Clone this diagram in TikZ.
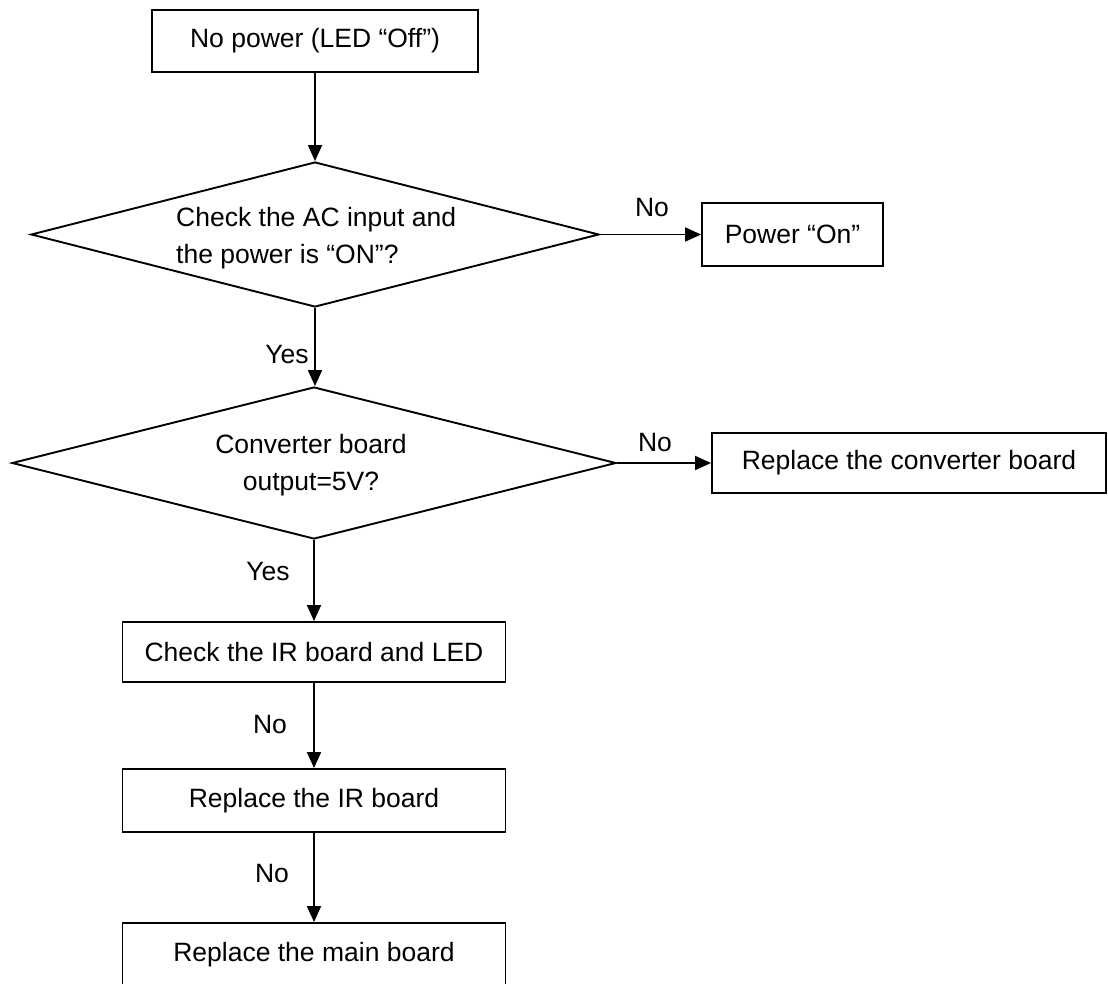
\documentclass[tikz,border=0pt]{standalone}
\usepackage{fontspec}
\setmainfont{Liberation Sans}
\usetikzlibrary{arrows.meta,shapes.geometric}
\begin{document}
\begin{tikzpicture}[x=1pt,y=-1pt,
  every node/.style={font=\fontsize{26.5}{37}\selectfont, inner sep=0pt},
  box/.style={draw, line width=1.9pt, rectangle},
  dec/.style={draw, line width=1.9pt, diamond},
  arr/.style={line width=1.9pt, -{Triangle[length=16pt,width=14pt]}}]
\useasboundingbox (0,0) rectangle (1108,983);
% nodes
\node[box, minimum width=326pt, minimum height=62pt] (b1) at (315,41) {No power (LED “Off”)};
\node[dec, minimum width=568pt, minimum height=145pt] (d1) at (315,234.5) {};
\node[align=left, anchor=west] (t1) at (176,238) {Check the AC input and\\the power is “ON”?};
\node[box, minimum width=181pt, minimum height=63pt] (pon) at (792.5,234.5) {Power “On”};
\node[dec, minimum width=604pt, minimum height=152pt] (d2) at (314,463) {};
\node[align=center] (t2) at (311,465) {Converter board\\output=5V?};
\node[box, minimum width=394pt, minimum height=60pt] (rc) at (909,463) {Replace the converter board};
\node[box, minimum width=383pt, minimum height=60pt] (cir) at (314,652) {Check the IR board and LED};
\node[box, minimum width=383pt, minimum height=63pt] (rir) at (314,800.5) {Replace the IR board};
\node[box, minimum width=383pt, minimum height=64pt] (rmb) at (314,955) {Replace the main board};
% labels
\node (no1) at (652,208) {No};
\node (no2) at (655,443) {No};
\node (yes1) at (287,355) {Yes};
\node (yes2) at (268,572) {Yes};
\node (no3) at (270,725) {No};
\node (no4) at (272,873) {No};
% connectors
\draw[arr] (b1.south) -- (d1.north);
\draw[arr] (d1.east) -- (pon.west);
\draw[arr] (d1.south) -- (d1.south |- d2.north);
\draw[arr] (d2.east) -- (rc.west);
\draw[arr] (d2.south) -- (cir.north);
\draw[arr] (cir.south) -- (rir.north);
\draw[arr] (rir.south) -- (rmb.north);
\end{tikzpicture}
\end{document}
